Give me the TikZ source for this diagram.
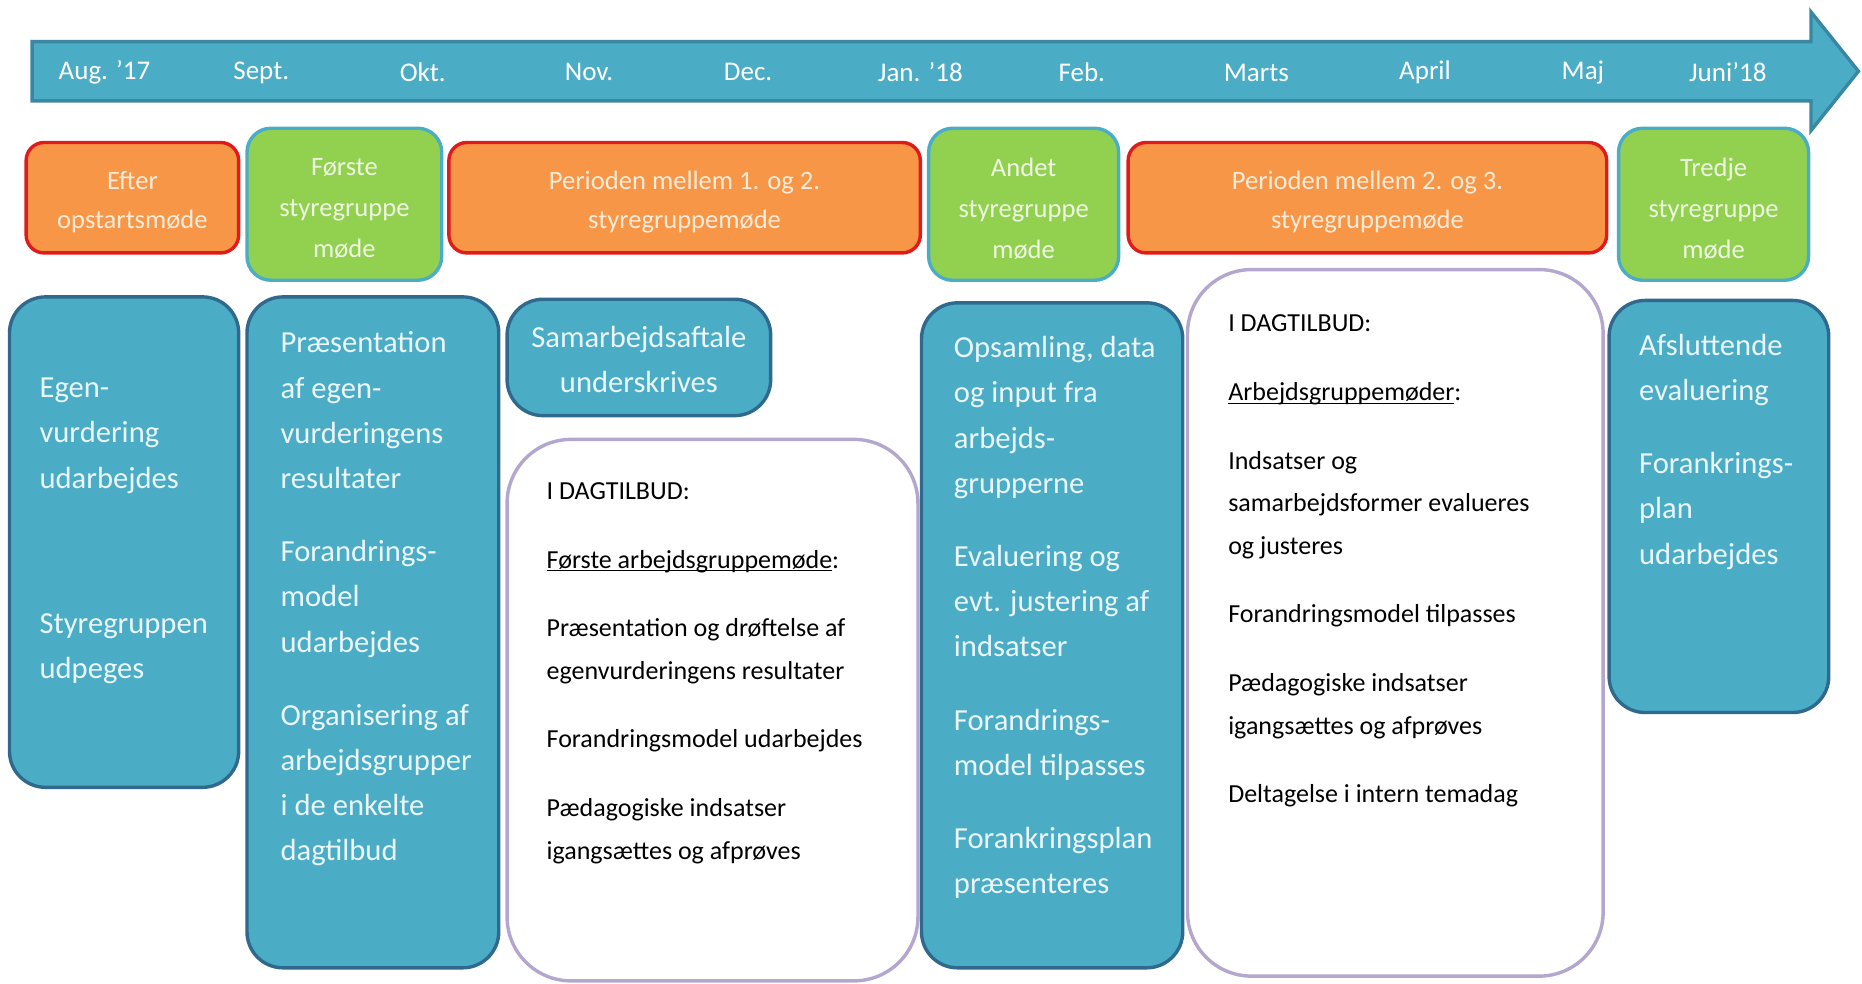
\documentclass[tikz,border=0pt]{standalone}
\usepackage{fontspec}
\setmainfont{Carlito}
\usetikzlibrary{fit}

\definecolor{aqua}{HTML}{4BACC6}
\definecolor{aquadark}{HTML}{2F6A8E}
\definecolor{arrowline}{HTML}{3A87A3}
\definecolor{orangefill}{HTML}{F79646}
\definecolor{redline}{HTML}{E01B1B}
\definecolor{greenfill}{HTML}{92D050}
\definecolor{lavender}{HTML}{B3A6CF}
\definecolor{paletext}{HTML}{EAF6FA}
\definecolor{creamtext}{HTML}{FDEBDA}
\definecolor{mintext}{HTML}{EEF6E2}

% underline sitting close to the baseline
\newcommand{\baseul}[1]{\setbox0=\hbox{#1}\rlap{\rule[-1.6pt]{\wd0}{0.55pt}}\box0}

\begin{document}
\begin{tikzpicture}[x=0.59375pt,y=-0.59375pt,
    month/.style={text=white,font=\fontsize{13.5}{16}\selectfont},
    periodbox/.style={draw=redline,line width=1.7pt,fill=orangefill,rounded corners=9pt,inner sep=0pt},
    meetbox/.style={draw=aqua,line width=1.7pt,fill=greenfill,rounded corners=12pt,inner sep=0pt},
    periodtext/.style={inner sep=0pt,text=creamtext,align=center,font=\fontsize{13.3}{19.6}\selectfont},
    meettext/.style={inner sep=0pt,text=mintext,align=center,font=\fontsize{13.3}{20.5}\selectfont},
    bluebox/.style={draw=aquadark,line width=1.7pt,fill=aqua,rounded corners=18pt,inner sep=0pt},
    whitebox/.style={draw=lavender,line width=1.7pt,fill=white,rounded corners=32pt,inner sep=0pt},
    bluetext/.style={anchor=north west,inner sep=0pt,align=left,text=paletext,font=\fontsize{15.3}{22.6}\selectfont},
    darktext/.style={anchor=north west,inner sep=0pt,align=left,text=black,font=\fontsize{13}{21.3}\selectfont}]

    \useasboundingbox (0,0) rectangle (1568,828);

    % Timeline arrow
    \draw [fill=aqua,draw=arrowline,line width=1.7pt,line join=miter]
        (27,35) -- (1525,35) -- (1525,10) -- (1565,60) -- (1525,110) -- (1525,85) -- (27,85) -- cycle;

    % Months
    \node [month] (aug) at (88,61) {Aug. '17};
    \node [month] (sep) at (220,61) {Sept.};
    \node [month] (okt) at (356,61) {Okt.};
    \node [month] (nov) at (496,61) {Nov.};
    \node [month] (dec) at (630,61) {Dec.};
    \node [month] (jan) at (775,61) {Jan. '18};
    \node [month] (feb) at (911,61) {Feb.};
    \node [month] (mar) at (1058,61) {Marts};
    \node [month] (apr) at (1200,61) {April};
    \node [month] (maj) at (1333,61) {Maj};
    \node [month] (jun) at (1455,61) {Juni'18};

    % Phases and steering group meetings
    \node [periodbox,fit={(22,120) (201,213)}] (efter) {};
    \node [meetbox,fit={(208,108) (372,236)}] (moede1) {};
    \node [periodbox,fit={(378,120) (775,213)}] (periode1) {};
    \node [meetbox,fit={(782,108) (942,236)}] (moede2) {};
    \node [periodbox,fit={(950,120) (1353,213)}] (periode2) {};
    \node [meetbox,fit={(1363,108) (1523,236)}] (moede3) {};

    \node [periodtext] (eftertxt) at ([yshift=-2.3pt]efter.center) {Efter\\opstartsmøde};
    \node [meettext] (moede1txt) at ([yshift=-2.3pt]moede1.center) {Første\\styregruppe\\møde};
    \node [periodtext] (periode1txt) at ([yshift=-2.3pt]periode1.center) {Perioden mellem 1. og 2.\\styregruppemøde};
    \node [meettext] (moede2txt) at ([yshift=-2.3pt]moede2.center) {Andet\\styregruppe\\møde};
    \node [periodtext] (periode2txt) at ([yshift=-2.3pt]periode2.center) {Perioden mellem 2. og 3.\\styregruppemøde};
    \node [meettext] (moede3txt) at ([yshift=-2.3pt]moede3.center) {Tredje\\styregruppe\\møde};

    % Activity boxes
    \node [bluebox,fit={(8,250) (201,663)}] (egen) {};
    \node [bluebox,fit={(208,250) (420,815)}] (praes) {};
    \node [bluebox,fit={(427,252) (649,350)}] (samarb) {};
    \node [whitebox,fit={(427,370) (773,826)}] (dag1) {};
    \node [bluebox,fit={(776,255) (996,815)}] (opsaml) {};
    \node [whitebox,fit={(1000,227) (1350,822)}] (dag2) {};
    \node [bluebox,fit={(1355,253) (1540,600)}] (afslut) {};

    % Texts in the activity boxes
    \node [bluetext] (egentxt) at (33,318)
        {Egen-\\vurdering\\udarbejdes\\[50pt]Styregruppen\\udpeges};
    \node [bluetext] (praestxt) at (236,279)
        {Præsentation\\af egen-\\vurderingens\\resultater\\[14pt]Forandrings-\\model\\udarbejdes\\[14pt]%
        Organisering af\\arbejdsgrupper\\i de enkelte\\dagtilbud};
    \node [bluetext,anchor=center,align=center] (samarbtxt) at ([yshift=-1pt]samarb.center)
        {Samarbejdsaftale\\underskrives};
    \node [darktext] (dag1txt) at (460,406)
        {I DAGTILBUD:\\[13pt]\baseul{Første arbejdsgruppemøde}:\\[13pt]Præsentation og drøftelse af\\%
        egenvurderingens resultater\\[13pt]Forandringsmodel udarbejdes\\[13pt]Pædagogiske indsatser\\%
        igangsættes og afprøves};
    \node [bluetext] (opsamltxt) at (803,283)
        {Opsamling, data\\og input fra\\arbejds-\\grupperne\\[14pt]Evaluering og\\evt. justering af\\indsatser\\[14pt]%
        Forandrings-\\model tilpasses\\[14pt]Forankringsplan\\præsenteres};
    \node [darktext] (dag2txt) at (1034,265)
        {I DAGTILBUD:\\[13pt]\baseul{Arbejdsgruppemøder}:\\[13pt]Indsatser og\\samarbejdsformer evalueres\\og justeres\\[13pt]%
        Forandringsmodel tilpasses\\[13pt]Pædagogiske indsatser\\igangsættes og afprøves\\[13pt]Deltagelse i intern temadag};
    \node [bluetext] (afsluttxt) at (1380,281)
        {Afsluttende\\evaluering\\[14pt]Forankrings-\\plan\\udarbejdes};

\end{tikzpicture}
\end{document}
